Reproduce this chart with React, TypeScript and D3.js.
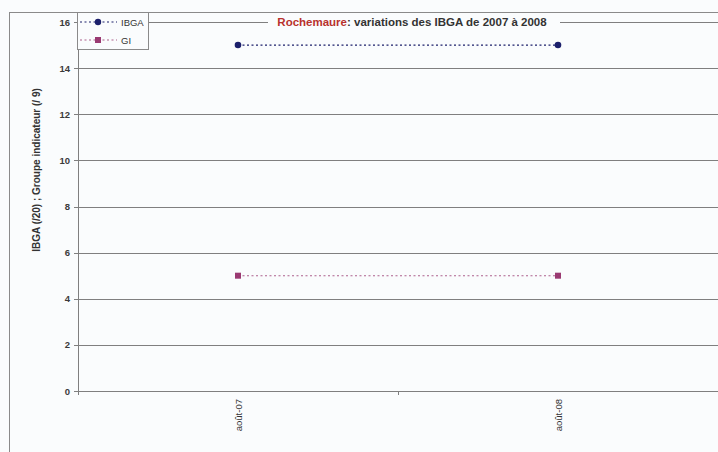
import React from "react";
import * as d3 from "d3";

const categories = ["août-07", "août-08"];
const ibga = [15, 15];
const gi = [5, 5];
const yTicks = [0, 2, 4, 6, 8, 10, 12, 14, 16];
const seriesNames = ["IBGA", "GI"];

const W = 718, H = 452;
const FONT = "Liberation Sans, Arial, sans-serif";

export default function App() {
  const left = 78, right = 718, top = 22, bottom = 391;
  const x = d3.scaleBand<string>().domain(categories).range([left, right]).padding(0);
  const y = d3.scaleLinear().domain([0, 16]).range([bottom, top]);
  const cx = (c: string) => (x(c) as number) + x.bandwidth() / 2;
  const lineGen = d3.line<number>().x((_, i) => cx(categories[i])).y((d) => y(d));
  const navy = "#1b1f6b";
  const plum = "#9a3a72";
  const grid = "#7f7f7f";
  return (
    <div style={{ position: "absolute", left: 0, top: 0 }}>
      <svg width={W} height={H} style={{ display: "block", background: "#fafcfd" }} fontFamily={FONT}>
        <rect x={9.5} y={12.5} width={W + 20} height={H + 20} fill="none" stroke="#8a8a8a" strokeWidth={1} />
        {yTicks.map((t) => (
          <line key={t} x1={left} x2={right} y1={Math.round(y(t)) + 0.5} y2={Math.round(y(t)) + 0.5} stroke={grid} strokeWidth={1} />
        ))}
        <line x1={left + 0.5} x2={left + 0.5} y1={top} y2={bottom + 0.5} stroke={grid} />
        {yTicks.map((t) => (
          <g key={"yt" + t}>
            <line x1={left - 4} x2={left} y1={Math.round(y(t)) + 0.5} y2={Math.round(y(t)) + 0.5} stroke={grid} />
            <text x={70} y={y(t) + 3.5} textAnchor="end" fontSize={9.5} fontWeight="bold" fill="#3a3a3a">{t}</text>
          </g>
        ))}
        {[left, left + x.bandwidth(), right].map((v, i) => (
          <line key={"xt" + i} x1={v + 0.5} x2={v + 0.5} y1={bottom} y2={bottom + 4} stroke={grid} />
        ))}
        {categories.map((c) => (
          <text key={c} transform={`translate(${cx(c) + 3.5},${399}) rotate(-90)`} textAnchor="end" fontSize={9.5} fill="#333">{c}</text>
        ))}
        <text transform={`translate(40,170) rotate(-90)`} textAnchor="middle" fontSize={10} fontWeight="bold" fill="#333">
          IBGA (/20) ; Groupe indicateur (/ 9)
        </text>
        <path d={lineGen(ibga) || ""} fill="none" stroke={navy} strokeWidth={1.3} strokeDasharray="2,2.5" />
        <path d={lineGen(gi) || ""} fill="none" stroke={plum} strokeWidth={1.1} strokeDasharray="2,2.5" opacity={0.8} />
        {ibga.map((v, i) => (
          <circle key={"a" + i} cx={cx(categories[i])} cy={y(v)} r={3.3} fill={navy} />
        ))}
        {gi.map((v, i) => (
          <rect key={"b" + i} x={cx(categories[i]) - 3} y={y(v) - 3} width={6} height={6} fill={plum} />
        ))}
        <rect x={268} y={14} width={292} height={16} fill="#fafcfd" />
        <text x={412} y={26} textAnchor="middle" fontSize={11.5} fontWeight="bold" fill="#333">
          <tspan fill="#b8322e">Rochemaure</tspan>: variations des IBGA de 2007 à 2008
        </text>
        <rect x={77.5} y={12.5} width={71} height={37} fill="#fafcfd" stroke="#8a8a8a" />
        {seriesNames.map((n, i) => {
          const ly = 22 + i * 18;
          const col = i === 0 ? navy : plum;
          return (
            <g key={n}>
              <line x1={80} x2={117} y1={ly} y2={ly} stroke={col} strokeWidth={1.2} strokeDasharray="2,2.5" opacity={i === 0 ? 1 : 0.8} />
              {i === 0 ? (
                <circle cx={98} cy={ly} r={3.2} fill={col} />
              ) : (
                <rect x={95} y={ly - 3} width={6} height={6} fill={col} />
              )}
              <text x={121} y={ly + 3.5} fontSize={9.5} fill="#333">{n}</text>
            </g>
          );
        })}
      </svg>
    </div>
  );
}
